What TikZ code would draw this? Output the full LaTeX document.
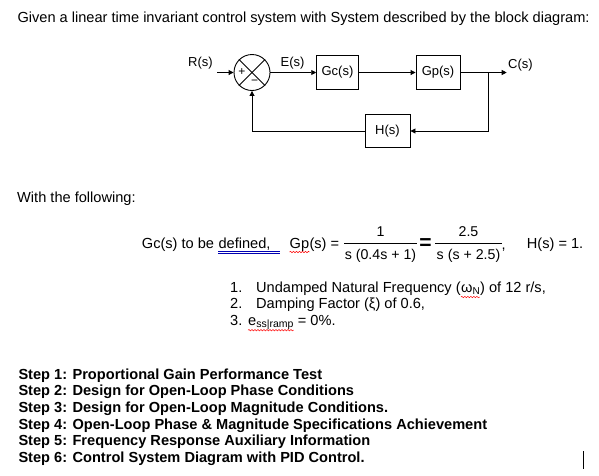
\documentclass[tikz,border=0pt]{standalone}
\usepackage{fontspec}
\setmainfont{Liberation Sans}
\usetikzlibrary{arrows.meta,decorations.pathmorphing}
\begin{document}
\begin{tikzpicture}[x=1pt,y=-1pt,
  txt/.style={anchor=base west, inner sep=0pt, font=\fontsize{14.6}{16}\selectfont},
  steptxt/.style={txt, font=\fontsize{14.6}{16}\selectfont\bfseries},
  frac/.style={anchor=base, inner sep=0pt, font=\fontsize{14.2}{15}\selectfont},
  blk/.style={draw, line width=0.9pt, minimum height=33.3pt, inner sep=0pt, font=\fontsize{13}{14}\selectfont},
  lbl/.style={inner sep=0pt, font=\fontsize{13}{14}\selectfont},
  wire/.style={line width=0.9pt},
  arr/.style={wire, -{Triangle[length=5pt,width=5pt]}},
  squig/.style={red, line width=0.5pt, decorate, decoration={snake, segment length=3pt, amplitude=0.7pt}}
]
\fill[white] (0,0) rectangle (599,475);
\useasboundingbox (0,0) rectangle (599,475);

% title
\node[txt] (title) at (17.3,22) {Given a linear time invariant control system with System described by the block diagram:};

% block diagram
\node[circle, draw, line width=0.9pt, minimum size=36pt, inner sep=0pt] (sum) at (252,72.5) {};
\draw[wire] (sum.north west) -- (sum.south east);
\draw[wire] (sum.north east) -- (sum.south west);
\node[lbl, font=\fontsize{12}{12}\selectfont] (plus) at (242,72.5) {+};
\node[lbl, font=\fontsize{12}{12}\selectfont] (minus) at (254.5,82) {−};
\coordinate (rin) at (217,72.5);
\draw[arr] (rin) -- (sum.west);
\node[lbl] (R) at (200.5,63) {R(s)};
\node[blk, minimum width=41.6pt] (gc) at (337.5,72.5) {Gc(s)};
\node[blk, minimum width=44pt] (gp) at (438,72.5) {Gp(s)};
\node[blk, minimum width=45pt] (h) at (387.5,131) {H(s)};
\draw[arr] (sum.east) -- (gc.west);
\node[lbl] (E) at (292.5,63) {E(s)};
\draw[arr] (gc.east) -- (gp.west);
\coordinate (br) at (488,72.5);
\coordinate (cout) at (506.7,72.5);
\draw[arr] (gp.east) -- (cout);
\node[lbl, anchor=west] (C) at (508,65) {C(s)};
\draw[arr] (br) |- (h.east);
\draw[arr] (h.west) -| (sum.south);

% with the following
\node[txt] (with) at (17,202) {With the following:};

\node[txt] (gc1) at (141.7,248) {Gc(s) to be};
\node[txt] (def) at ([xshift=4.06pt]gc1.base east) {defined,};
\draw[blue!70!black, line width=0.5pt] ([yshift=-3pt]def.base west) -- ++(62,0);
\draw[blue!70!black, line width=0.5pt] ([yshift=-5.3pt]def.base west) -- ++(62,0);

\node[txt] (gpn) at (289.5,248) {Gp};
\node[txt] (gps) at (gpn.base east) {(s) =};
\draw[squig] ([yshift=-4pt]gpn.base west) -- ([yshift=-4pt]gpn.base east);

\node[frac] (n1) at (380.5,236.5) {1};
\draw[wire, line width=0.7pt] (344,243.3) -- (417,243.3);
\node[frac] (d1) at (380.5,259.5) {s (0.4s + 1)};
\node[anchor=base, inner sep=0pt, font=\fontsize{21}{22}\selectfont\bfseries] (eq) at (425.5,249.5) {=};
\node[frac] (n2) at (468.5,236.5) {2.5};
\draw[wire, line width=0.7pt] (435,243.3) -- (502,243.3);
\node[frac] (d2) at (468.5,259.5) {s (s + 2.5)};
\node[txt] (comma) at (501.5,249) {,};
\node[txt] (hs) at (526.7,248) {H(s) = 1.};

% numbered list
\node[txt] (num1) at (230,292) {1.};
\node[txt] (l1a) at (256,292) {Undamped Natural Frequency (};
\node[txt] (wn) at (l1a.base east) {ω\raisebox{-2.5pt}{\fontsize{10}{10}\selectfont N}};
\node[txt] (l1b) at (wn.base east) {) of 12 r/s,};
\draw[squig] ([yshift=-5pt]wn.base west) -- ([yshift=-5pt]wn.base east);

\node[txt] (num2) at (230,308.6) {2.};
\node[txt] (l2) at (256,308.6) {Damping Factor (ξ) of 0.6,};

\node[txt] (num3) at (230,325.2) {3.};
\node[txt] (ess) at (248,325.2) {e\raisebox{-2.5pt}{\fontsize{10.5}{10.5}\selectfont ss|ramp}};
\node[txt] (l3) at ([xshift=4pt]ess.base east) {= 0\%.};
\draw[squig] ([yshift=-5pt]ess.base west) -- ([yshift=-5pt]ess.base east);

% steps
\node[steptxt] (s1) at (18.3,379.3) {Step 1: Proportional Gain Performance Test};
\node[steptxt] (s2) at (18.3,395.9) {Step 2: Design for Open-Loop Phase Conditions};
\node[steptxt] (s3) at (18.3,412.5) {Step 3: Design for Open-Loop Magnitude Conditions.};
\node[steptxt] (s4) at (18.3,429.1) {Step 4: Open-Loop Phase \& Magnitude Specifications Achievement};
\node[steptxt] (s5) at (18.3,445.7) {Step 5: Frequency Response Auxiliary Information};
\node[steptxt] (s6) at (18.3,462.3) {Step 6: Control System Diagram with PID Control.};

% text cursor
\draw[line width=0.9pt] (583,451) -- (583,469);
\end{tikzpicture}
\end{document}
